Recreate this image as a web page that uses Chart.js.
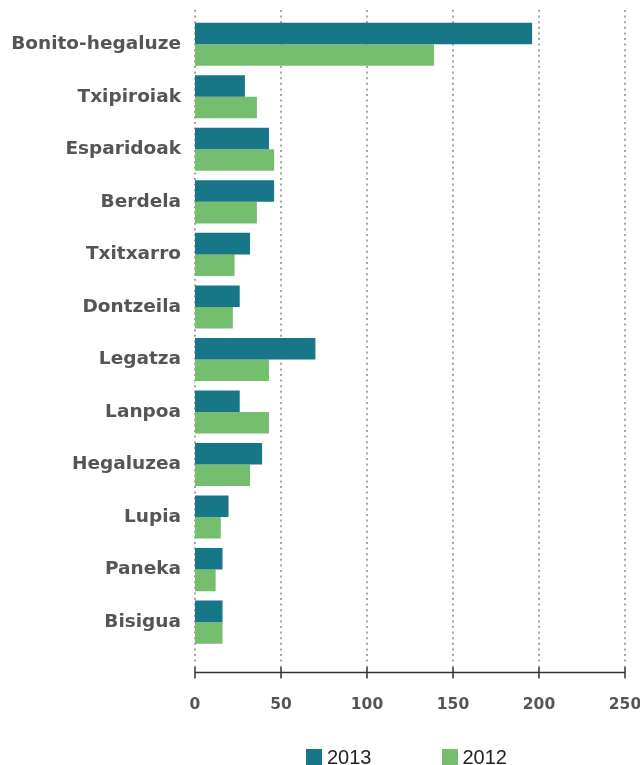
<!DOCTYPE html>
<html lang="eu">
<head>
<meta charset="UTF-8">
<title>Harrapaketak 2013 / 2012</title>
<script src="https://cdn.jsdelivr.net/npm/chart.js"></script>
<style>
  body { margin: 0; background: #fff; }
  #wrap { position: relative; width: 640px; height: 765px; }
  #legend { position: absolute; left: 306px; top: 749px; display: flex; gap: 70px;
            font-family: "Liberation Sans", Arial, sans-serif; font-size: 20px; color: #222; line-height: 16px; }
  #legend span.item { display: flex; align-items: center; }
  #legend span.box { display: inline-block; width: 16px; height: 16px; margin-right: 5px; }
</style>
</head>
<body>
<div id="wrap">
  <canvas id="fishChart" width="640" height="765"></canvas>
  <div id="legend"></div>
</div>
<script>
// species (top to bottom)
var species = ['Bonito-hegaluze', 'Txipiroiak', 'Esparidoak', 'Berdela', 'Txitxarro', 'Dontzeila',
               'Legatza', 'Lanpoa', 'Hegaluzea', 'Lupia', 'Paneka', 'Bisigua'];
var values2013 = [196, 29, 43, 46, 32, 26, 70, 26, 39, 19.5, 16, 16];
var values2012 = [139, 36, 46, 36, 23, 22, 43, 43, 32, 15, 12, 16];
var xTicks = [0, 50, 100, 150, 200, 250];

var seriesNames = ['2013', '2012'];
var seriesColors = ['#187689', '#75be6e'];

// dotted grid + axis line drawn a bit outside the plot area, like the original
var axisDeco = {
    id: 'axisDeco',
    beforeDatasetsDraw: function(chart) {
        var ctx = chart.ctx, area = chart.chartArea, x = chart.scales.x;
        ctx.save();
        ctx.strokeStyle = '#a3a3a3';
        ctx.lineWidth = 2;
        ctx.setLineDash([2, 3.6]);
        xTicks.forEach(function(v) {
            var px = x.getPixelForValue(v);
            ctx.beginPath();
            ctx.moveTo(px, area.top - 8);
            ctx.lineTo(px, area.bottom + 17);
            ctx.stroke();
        });
        ctx.restore();
    },
    afterDraw: function(chart) {
        var ctx = chart.ctx, area = chart.chartArea, x = chart.scales.x;
        var y0 = area.bottom + 24;
        ctx.save();
        ctx.strokeStyle = '#333';
        ctx.lineWidth = 1.5;
        ctx.beginPath();
        ctx.moveTo(x.getPixelForValue(0), y0);
        ctx.lineTo(x.getPixelForValue(250), y0);
        xTicks.forEach(function(v) {
            var px = x.getPixelForValue(v);
            ctx.moveTo(px, y0 - 6);
            ctx.lineTo(px, y0 + 6);
        });
        ctx.stroke();
        ctx.restore();
    }
};

var ctx = document.getElementById('fishChart').getContext('2d');
var fishChart = new Chart(ctx, {
    type: 'bar',
    data: {
        labels: species,
        datasets: [{
            label: seriesNames[0],
            data: values2013,
            backgroundColor: seriesColors[0]
        }, {
            label: seriesNames[1],
            data: values2012,
            backgroundColor: seriesColors[1]
        }]
    },
    options: {
        indexAxis: 'y',
        responsive: false,
        animation: false,
        categoryPercentage: 0.82,
        barPercentage: 1.0,
        layout: { padding: { top: 18, right: 15, bottom: 51, left: 0 } },
        plugins: {
            legend: { display: false },
            tooltip: { enabled: false }
        },
        scales: {
            x: {
                min: 0,
                max: 250,
                afterBuildTicks: function(scale) {
                    scale.ticks = xTicks.map(function(v) { return { value: v }; });
                },
                afterFit: function(scale) {
                    scale.paddingLeft = 0;
                    scale.paddingRight = 0;
                },
                grid: { display: false, drawTicks: true, tickLength: 47 },
                border: { display: false },
                ticks: {
                    padding: 0,
                    color: '#555',
                    font: { family: 'DejaVu Sans', weight: 'bold', size: 15.5 }
                }
            },
            y: {
                grid: { display: false, drawTicks: true, tickLength: 14 },
                border: { display: false },
                afterFit: function(scale) {
                    scale.width = 195;
                    scale.paddingTop = 0;
                    scale.paddingBottom = 0;
                },
                ticks: {
                    padding: 0,
                    color: '#555',
                    font: { family: 'DejaVu Sans', weight: 'bold', size: 18.5 }
                }
            }
        }
    },
    plugins: [axisDeco]
});

// legend as plain html under the chart
var legend = document.getElementById('legend');
fishChart.data.datasets.forEach(function(ds) {
    var item = document.createElement('span');
    item.className = 'item';
    var box = document.createElement('span');
    box.className = 'box';
    box.style.background = ds.backgroundColor;
    item.appendChild(box);
    item.appendChild(document.createTextNode(ds.label));
    legend.appendChild(item);
});
</script>
</body>
</html>
